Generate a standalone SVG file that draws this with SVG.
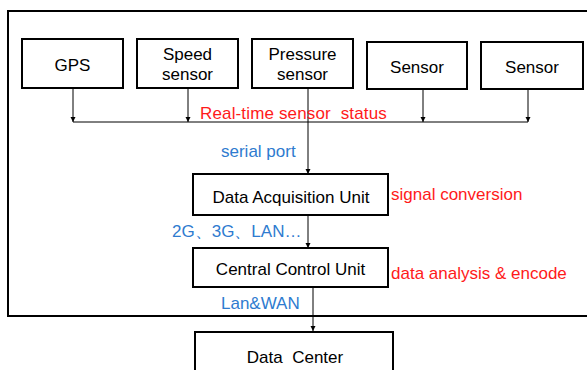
<svg xmlns="http://www.w3.org/2000/svg" width="587" height="370" viewBox="0 0 587 370">
<defs>
<marker id="ah" viewBox="0 0 10 10" refX="10" refY="5" markerWidth="5" markerHeight="6" markerUnits="userSpaceOnUse" orient="auto">
<path d="M0,0 L10,5 L0,10 z" fill="#000"/>
</marker>
<style>
.box{fill:#fff;stroke:#000;stroke-width:2}
.t{font-family:"Liberation Sans",Arial,sans-serif;font-size:17px;fill:#000;text-anchor:middle}
.red{font-family:"Liberation Sans",Arial,sans-serif;font-size:17px;fill:#ff1a1a}
.blue{font-family:"Liberation Sans",Arial,sans-serif;font-size:17px;fill:#2e7bcf}
.ln{fill:none;stroke:#000;stroke-width:1}
</style>
</defs>
<rect x="0" y="0" width="587" height="370" fill="#fff"/>
<rect id="frame" x="8" y="11" width="600" height="305" fill="none" stroke="#000" stroke-width="2"/>
<g id="connectors">
<line class="ln" x1="73" y1="122" x2="528" y2="122"/>
<line class="ln" x1="73" y1="88" x2="73" y2="122" marker-end="url(#ah)"/>
<line class="ln" x1="188" y1="88" x2="188" y2="122" marker-end="url(#ah)"/>
<line class="ln" x1="423" y1="89" x2="423" y2="122" marker-end="url(#ah)"/>
<line class="ln" x1="528" y1="89" x2="528" y2="122" marker-end="url(#ah)"/>
<line class="ln" x1="308" y1="88" x2="308" y2="174" marker-end="url(#ah)"/>
<line class="ln" x1="308" y1="215" x2="308" y2="248" marker-end="url(#ah)"/>
<line class="ln" x1="313" y1="287" x2="313" y2="331" marker-end="url(#ah)"/>
</g>
<g id="gps"><rect class="box" x="22" y="39" width="101" height="49"/><text class="t" x="72.5" y="71">GPS</text></g>
<g id="speed"><rect class="box" x="137" y="39" width="101" height="49"/><text class="t" x="187.5" y="60">Speed</text><text class="t" x="187.5" y="80">sensor</text></g>
<g id="pressure"><rect class="box" x="252" y="39" width="101" height="49"/><text class="t" x="302.5" y="60">Pressure</text><text class="t" x="302.5" y="80">sensor</text></g>
<g id="sensor1"><rect class="box" x="367" y="42" width="100" height="47"/><text class="t" x="417" y="73">Sensor</text></g>
<g id="sensor2"><rect class="box" x="481" y="42" width="102" height="47"/><text class="t" x="532" y="73">Sensor</text></g>
<g id="dau"><rect class="box" x="193" y="174" width="195" height="41"/><text class="t" x="291" y="203">Data Acquisition Unit</text></g>
<g id="ccu"><rect class="box" x="193" y="248" width="195" height="39"/><text class="t" x="290.5" y="274.5">Central Control Unit</text></g>
<g id="dc"><rect class="box" x="195" y="332" width="198" height="50"/><text class="t" x="295" y="363" xml:space="preserve" style="white-space:pre">Data  Center</text></g>
<g id="labels">
<text class="red" x="200" y="118.5" xml:space="preserve" style="white-space:pre;letter-spacing:0.15px">Real-time sensor  status</text>
<text class="red" x="391" y="199.5">signal conversion</text>
<text class="red" x="391" y="278.5">data analysis &amp; encode</text>
<text class="blue" x="221" y="157">serial port</text>
<text class="blue" x="172" y="237">2G、3G、LAN…</text>
<text class="blue" x="221" y="309">Lan&amp;WAN</text>
</g>
</svg>
